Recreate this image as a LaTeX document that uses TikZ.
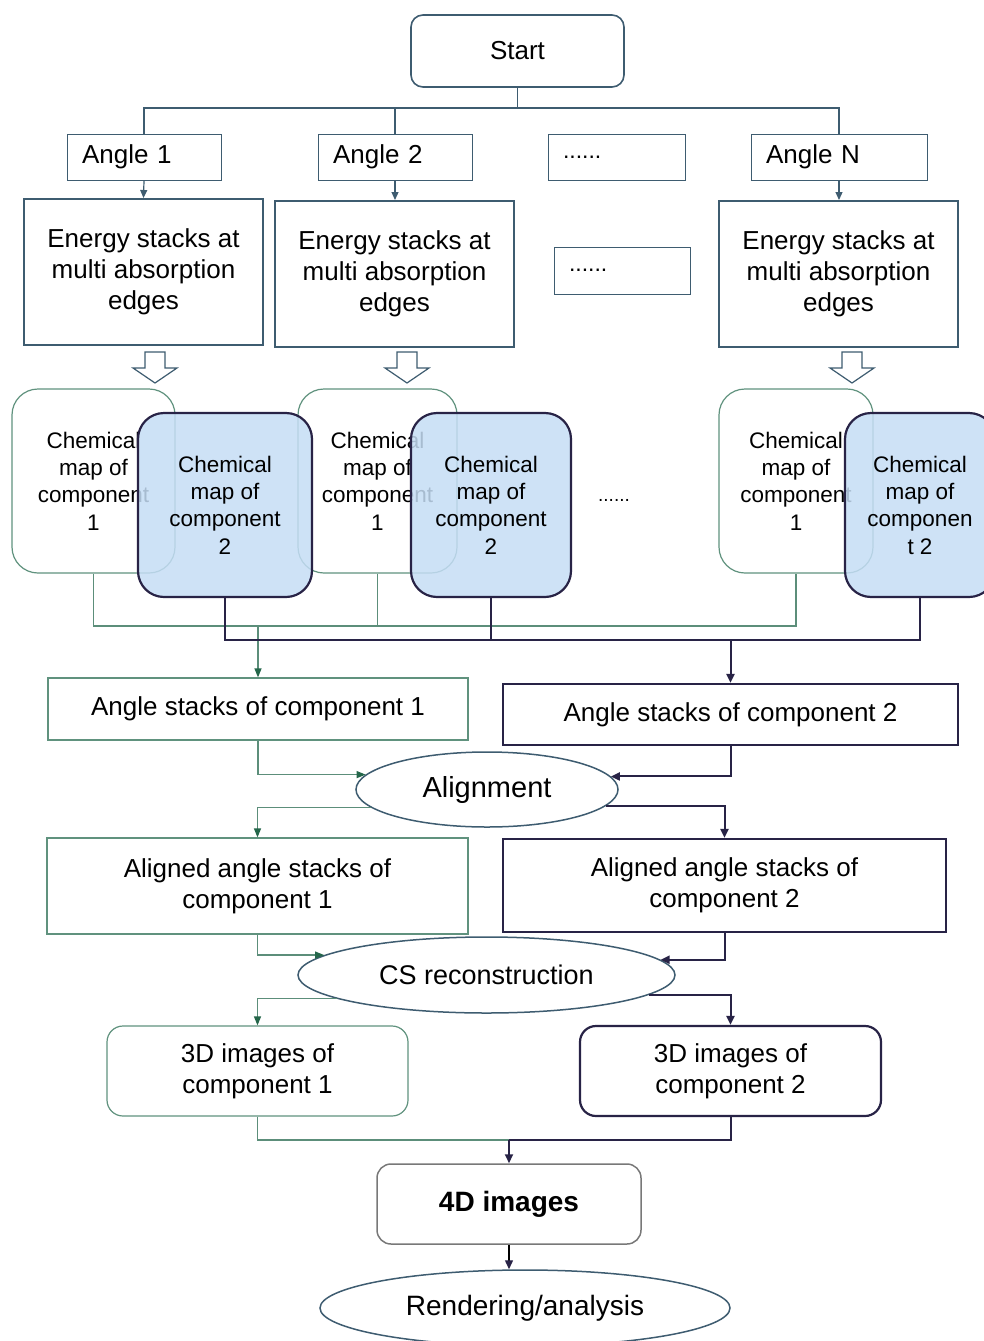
\documentclass[tikz,border=0pt]{standalone}
\usepackage{fontspec}
\setmainfont{Liberation Sans}
\usetikzlibrary{shapes.geometric,arrows.meta}
\definecolor{slate}{RGB}{62,92,112}
\definecolor{grnbox}{RGB}{96,146,126}
\definecolor{grnline}{RGB}{92,142,122}
\definecolor{grntip}{RGB}{36,102,74}
\definecolor{navy}{RGB}{40,35,70}
\definecolor{bluefill}{RGB}{197,221,245}
\definecolor{graybox}{RGB}{120,120,120}

\begin{document}
\begin{tikzpicture}[
        x=1pt, y=-1pt,
        font=\fontsize{26}{31}\selectfont,
        every node/.style={inner sep=0pt, align=center},
        startbox/.style={draw=slate, line width=1.6pt, rounded corners=12pt,
            minimum width=213pt, minimum height=72pt},
        anglebox/.style={draw=slate, line width=1pt, minimum height=46pt,
            inner xsep=15pt, align=left},
        energybox/.style={draw=slate, line width=2pt,
            minimum width=239pt, minimum height=146pt},
        mapone/.style={draw=grnbox, line width=1.2pt, rounded corners=26pt,
            fill=white, minimum height=184pt,
            font=\fontsize{22.5}{27.3}\selectfont},
        maptwo/.style={draw=navy, line width=2.2pt, rounded corners=26pt,
            fill=bluefill, fill opacity=0.85, text opacity=1, minimum height=184pt,
            font=\fontsize{22.5}{27.3}\selectfont},
        onebox/.style={draw=grnbox, line width=1.2pt},
        twobox/.style={draw=navy, line width=2.2pt},
        oval/.style={ellipse, draw=slate, line width=1.5pt},
        linktop/.style={draw=slate, line width=1.2pt},
        linkone/.style={draw=grnline, line width=1.2pt},
        linktwo/.style={draw=navy, line width=2pt},
        tiptop/.style={linktop, -{Triangle[length=8pt,width=7pt,color=slate]}},
        tipone/.style={linkone, -{Triangle[length=9pt,width=7pt,color=grntip]}},
        tiptwo/.style={linktwo, -{Triangle[length=9pt,width=8pt,color=navy]}}
    ]
    \useasboundingbox (0,0) rectangle (983,1341);

    \node[startbox] (start) at (517.5,51) {Start};

    \node[anglebox, text width=124pt] (a1) at (144,157) {Angle 1};
    \node[anglebox, text width=124pt] (a2) at (395,157) {Angle 2};
    \node[anglebox, text width=107pt, font=\fontsize{23}{28}\selectfont] (adots) at (616.5,157) {......};
    \node[anglebox, text width=146pt] (aN) at (839,157) {Angle N};

    \node[energybox] (e1) at (143.5,272) {Energy stacks at\\multi absorption\\edges};
    \node[energybox] (e2) at (394.5,274) {Energy stacks at\\multi absorption\\edges};
    \node[anglebox, draw=slate, text width=106pt, minimum height=47pt,
        font=\fontsize{23}{28}\selectfont] (edots) at (622,270.5) {......};
    \node[energybox] (eN) at (838.5,274) {Energy stacks at\\multi absorption\\edges};

    \coordinate (split) at (517.5,108);
    \draw[linktop] (start.south) -- (split);
    \draw[linktop] (split) -| (a1.north);
    \draw[linktop] (split) -| (a2.north);
    \draw[linktop] (split) -| (aN.north);

    \draw[tiptop] (a1.south) -- (e1.north);
    \draw[tiptop] (a2.south) -- (a2.south |- e2.north);
    \draw[tiptop] (aN.south) -- (aN.south |- eN.north);

    \foreach \bx in {155,407,852}
        \draw[slate, line width=1.2pt, fill=white]
            ({\bx-10},352) -- ({\bx+10},352) -- ({\bx+10},368) -- ({\bx+22},368)
            -- (\bx,383) -- ({\bx-22},368) -- ({\bx-10},368) -- cycle;

    \node[mapone, minimum width=163pt] (g1) at (93.5,481) {Chemical\\map of\\component\\1};
    \node[mapone, minimum width=159pt] (g2) at (377.5,481) {Chemical\\map of\\component\\1};
    \node[mapone, minimum width=154pt] (gN) at (796,481) {Chemical\\map of\\component\\1};
    \node[maptwo, minimum width=174pt] (b1) at (225,505) {Chemical\\map of\\component\\2};
    \node[maptwo, minimum width=160pt] (b2) at (491,505) {Chemical\\map of\\component\\2};
    \node[maptwo, minimum width=150pt] (bN) at (920,505) {Chemical\\map of\\componen\\t 2};
    \node[font=\fontsize{19}{23}\selectfont] (mdots) at (614,500) {......};

    \node[onebox, minimum width=420pt, minimum height=62pt] (as1) at (258,709) {Angle stacks of component 1};
    \node[twobox, minimum width=455pt, minimum height=61pt] (as2) at (730.5,714.5) {Angle stacks of component 2};

    \coordinate (gbus) at (0,626);
    \coordinate (nbus) at (0,640);
    \draw[linkone] (g1.south) |- (gN.south |- gbus) -- (gN.south);
    \draw[linkone] (g2.south) -- (g2.south |- gbus);
    \draw[tipone] (as1.north |- gbus) -- (as1.north);
    \draw[linktwo] (b1.south) |- (bN.south |- nbus) -- (bN.south);
    \draw[linktwo] (b2.south) -- (b2.south |- nbus);
    \draw[tiptwo] (as2.north |- nbus) -- (as2.north);

    \node[oval, minimum width=262pt, minimum height=75pt,
        font=\fontsize{29}{34}\selectfont] (align) at (487,789.5) {Alignment};
    \draw[tipone] (as1.south) |- (align.173);
    \draw[tiptwo] (as2.south) |- (align.6);

    \node[onebox, minimum width=421pt, minimum height=96pt] (al1) at (257.5,886) {Aligned angle stacks of\\component 1};
    \node[twobox, minimum width=443pt, minimum height=93pt] (al2) at (724.5,885.5) {Aligned angle stacks of\\component 2};
    \draw[tipone] (align.189) -| (al1.north);
    \draw[tiptwo] (align.352) -| (al2.north);

    \node[oval, minimum width=377pt, minimum height=76pt,
        font=\fontsize{27}{32}\selectfont] (cs) at (486.5,975) {CS reconstruction};
    \draw[tipone] (al1.south) |- (cs.173);
    \draw[tiptwo] (al2.south) |- (cs.5);

    \node[onebox, rounded corners=16pt, minimum width=301pt, minimum height=90pt] (d1) at (257.5,1071) {3D images of\\component 1};
    \node[twobox, rounded corners=16pt, minimum width=301pt, minimum height=90pt] (d2) at (730.5,1071) {3D images of\\component 2};
    \draw[tipone] (cs.189) -| (d1.north);
    \draw[tiptwo] (cs.353) -| (d2.north);

    \node[draw=graybox, line width=1.5pt, rounded corners=14pt, minimum width=264pt,
        minimum height=80pt, font=\fontsize{28}{33}\selectfont\bfseries] (img4) at (509,1204) {4D images};
    \coordinate (jn) at (509,1140);
    \draw[linkone] (d1.south) |- (jn);
    \draw[linktwo] (d2.south) |- (jn);
    \draw[tiptwo] (jn) -- (img4.north);

    \node[oval, minimum width=410pt, minimum height=76pt,
        font=\fontsize{28}{33}\selectfont] (render) at (525,1308) {Rendering/analysis};
    \draw[tiptwo, line width=1.4pt, black] (img4.south) -- (img4.south |- render.north);
\end{tikzpicture}
\end{document}
